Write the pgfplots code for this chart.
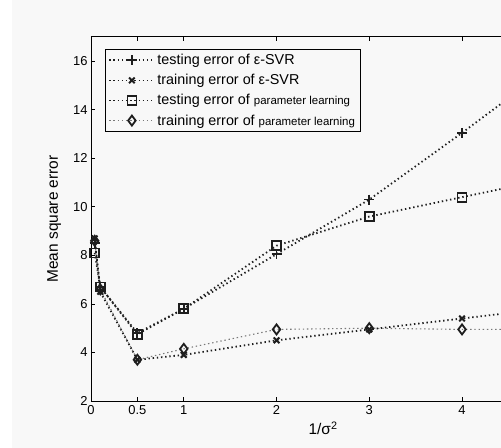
\documentclass[border=0pt]{standalone}
\usepackage{fontspec}
\setmainfont{Liberation Sans}
\usepackage{pgfplots}
\pgfplotsset{compat=1.18}
\definecolor{bg}{RGB}{248,248,248}
\definecolor{ln}{RGB}{30,30,30}
\definecolor{lg}{RGB}{120,120,120}
\newcommand{\lf}{\fontsize{14.4}{16}\selectfont}
\newcommand{\smf}{\fontsize{11.5}{12}\selectfont}
\begin{document}
\begin{tikzpicture}
\useasboundingbox (0bp,0bp) rectangle (501bp,448bp);
\fill[white] (0bp,0bp) rectangle (501bp,448bp);
\fill[bg] (12bp,0bp) rectangle (501bp,448bp);
\begin{axis}[
 at={(91bp,47bp)}, anchor=south west,
 scale only axis, width=410bp, height=364bp,
 xmin=0, xmax=4.42, ymin=2, ymax=17,
 axis x line=box, axis y line*=left,
 y axis line style={-}, x axis line style={-},
 axis line style={line width=1pt, black},
 xtick={0,0.5,1,2,3,4}, ytick={2,4,6,8,10,12,14,16},
 ytick pos=left,
 tick align=inside, major tick length=4bp,
 tick style={line width=0.8pt, black},
 /pgf/number format/assume math mode=true,
 ticklabel style={font=\fontsize{13}{15}\selectfont},
 xticklabel style={yshift=-1bp},
 xlabel={\fontsize{15.5}{17}\selectfont 1/σ\textsuperscript{2}},
 ylabel={\fontsize{15.5}{17}\selectfont Mean square error},
 every axis x label/.style={at={(axis description cs:0.566,0)}, anchor=center, yshift=-27bp},
 every axis y label/.style={at={(axis description cs:-0.09,0.5)}, anchor=center, rotate=90},
 legend style={at={(axis description cs:0.034,0.967)}, anchor=north west, draw=black, line width=0.8pt, fill=bg,
   inner xsep=3bp, inner ysep=3bp, row sep=4.2bp, cells={anchor=west}},
 legend image code/.code={\draw[mark repeat=2,mark phase=2,#1] plot coordinates {(0cm,0cm)(0.8cm,0cm)(1.6cm,0cm)};},
 every axis plot/.append style={line width=1.8pt, dash pattern=on 1.4pt off 2.8pt},
]
\addplot[ln, mark=+, mark size=5bp, mark options={solid, line width=1.8pt}] coordinates
 {(0.04,8.5)(0.1,6.7)(0.5,4.8)(1,5.8)(2,8.05)(3,10.3)(4,13.05)(5,15.9)};
\addlegendentry{\lf testing error of ε-SVR}
\addplot[ln, mark=x, mark size=4bp, mark options={solid, line width=2pt}] coordinates
 {(0.04,8.7)(0.1,6.5)(0.5,3.7)(1,3.9)(2,4.5)(3,4.95)(4,5.4)(5,5.85)};
\addlegendentry{\lf training error of ε-SVR}
\addplot[ln, mark=square, mark size=4.5bp, mark options={solid, line width=1.8pt}] coordinates
 {(0.04,8.1)(0.1,6.7)(0.5,4.75)(1,5.8)(2,8.4)(3,9.6)(4,10.4)(5,11.2)};
\addlegendentry{\lf testing error of {\smf parameter learning}}
\addplot[lg, line width=1.1pt, mark=diamond, mark size=5bp, mark options={solid, ln, line width=1.8pt}] coordinates
 {(0.04,8.6)(0.1,6.6)(0.5,3.7)(1,4.15)(2,4.95)(3,5.0)(4,4.95)(5,4.95)};
\addlegendentry{\lf training error of {\smf parameter learning}}
\node[anchor=base west, inner sep=0pt, font=\fontsize{13}{15}\selectfont] at (rel axis cs:0,1) [yshift=7bp] {x 10\textsuperscript{-3}};
\end{axis}
\end{tikzpicture}
\end{document}
